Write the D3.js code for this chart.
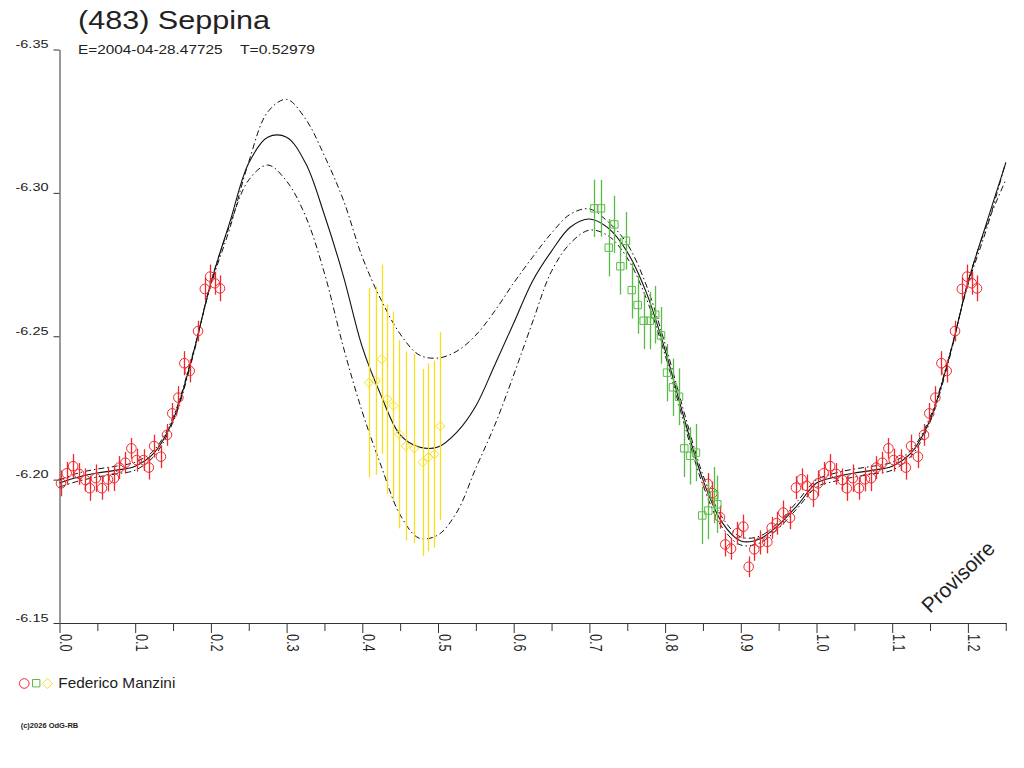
<!DOCTYPE html>
<html>
<head>
<meta charset="utf-8">
<script src="https://cdn.jsdelivr.net/npm/d3@7"></script>
<style>
body { margin: 0; background: #fff; }
text { font-family: "Liberation Sans", Arial, sans-serif; fill: #222; }
</style>
</head>
<body>
<div id="chart"></div>
<script>
// Fit curve (solid) and its two envelopes
var fitPhase = [0.000, 0.025, 0.050, 0.075, 0.100, 0.125, 0.150, 0.175, 0.200, 0.225,
    0.250, 0.275, 0.300, 0.325, 0.350, 0.375, 0.400, 0.425, 0.450, 0.475,
    0.500, 0.525, 0.550, 0.575, 0.600, 0.625, 0.650, 0.675, 0.700, 0.725,
    0.750, 0.775, 0.800, 0.825, 0.850, 0.875, 0.900, 0.925, 0.950, 0.975, 1.000];
var fitMag = [-6.1988, -6.2009, -6.2023, -6.2033, -6.2047, -6.2093, -6.2208, -6.2424, -6.2686, -6.2898,
    -6.3104, -6.3194, -6.3194, -6.3104, -6.2923, -6.2710, -6.2462, -6.2292, -6.2156, -6.2114,
    -6.2114, -6.2166, -6.2257, -6.2400, -6.2546, -6.2693, -6.2797, -6.2881, -6.2909, -6.2877,
    -6.2794, -6.2654, -6.2452, -6.2215, -6.1999, -6.1852, -6.1786, -6.1793, -6.1842, -6.1911, -6.1988];
var fitUpper = [-6.1999, -6.2023, -6.2037, -6.2047, -6.2061, -6.2103, -6.2218, -6.2428, -6.2679, -6.2877,
    -6.3108, -6.3282, -6.3326, -6.3258, -6.3129, -6.2975, -6.2776, -6.2626, -6.2508, -6.2435,
    -6.2424, -6.2448, -6.2504, -6.2588, -6.2686, -6.2776, -6.2860, -6.2926, -6.2944, -6.2898,
    -6.2822, -6.2679, -6.2473, -6.2236, -6.2016, -6.1870, -6.1800, -6.1803, -6.1852, -6.1925, -6.1999];
var fitLower = [-6.1974, -6.1995, -6.2009, -6.2020, -6.2033, -6.2082, -6.2201, -6.2417, -6.2689, -6.2888,
    -6.3045, -6.3097, -6.3041, -6.2919, -6.2720, -6.2462, -6.2236, -6.2047, -6.1877, -6.1796,
    -6.1807, -6.1887, -6.2040, -6.2190, -6.2365, -6.2550, -6.2727, -6.2825, -6.2870, -6.2850,
    -6.2773, -6.2633, -6.2435, -6.2197, -6.1981, -6.1835, -6.1772, -6.1779, -6.1831, -6.1901, -6.1974];

// Session 1 (red circles)
var redPhase = [0.002, 0.0095, 0.018, 0.026, 0.034, 0.040, 0.048, 0.056, 0.064, 0.072,
    0.079, 0.087, 0.095, 0.102, 0.111, 0.118, 0.125, 0.134, 0.142, 0.149,
    0.157, 0.165, 0.172, 0.183, 0.192, 0.199, 0.205, 0.212,
    0.8563, 0.8626, 0.8725, 0.8795, 0.8871, 0.8954, 0.9033, 0.9104, 0.9178, 0.9254,
    0.9350, 0.9408, 0.9474, 0.9561, 0.9650, 0.9729, 0.9803, 0.9870, 0.9957];
var redMag = [-6.1987, -6.2022, -6.2047, -6.2020, -6.1999, -6.1970, -6.2005, -6.1970, -6.2001, -6.2005,
    -6.2042, -6.2059, -6.2109, -6.2068, -6.2068, -6.2042, -6.2117, -6.2080, -6.2156, -6.2231,
    -6.2286, -6.2406, -6.2379, -6.2518, -6.2665, -6.2708, -6.2685, -6.2667,
    -6.1985, -6.1953, -6.1869, -6.1774, -6.1759, -6.1813, -6.1836, -6.1696, -6.1757, -6.1781,
    -6.1783, -6.1832, -6.1848, -6.1885, -6.1867, -6.1972, -6.2001, -6.1978, -6.1946];
var redErr = [0.0045, 0.0040, 0.0042, 0.0038, 0.0040, 0.0044, 0.0048, 0.0040, 0.0042, 0.0045,
    0.0040, 0.0038, 0.0036, 0.0040, 0.0038, 0.0042, 0.0040, 0.0040, 0.0038, 0.0036,
    0.0040, 0.0042, 0.0040, 0.0036, 0.0040, 0.0042, 0.0040, 0.0045,
    0.0038, 0.0040, 0.0040, 0.0042, 0.0038, 0.0040, 0.0042, 0.0036, 0.0040, 0.0042,
    0.0040, 0.0038, 0.0040, 0.0042, 0.0040, 0.0040, 0.0038, 0.0040, 0.0042];

// Session 2 (green squares)
var greenPhase = [0.7065, 0.7153, 0.7255, 0.7330, 0.7409, 0.7483, 0.7559, 0.7638, 0.7717, 0.7797,
    0.7870, 0.7946, 0.8025, 0.8104, 0.8184, 0.8254, 0.8333, 0.8408, 0.8491, 0.8571,
    0.8650, 0.8690];
var greenMag = [-6.2946, -6.2946, -6.2809, -6.2890, -6.2744, -6.2833, -6.2661, -6.2609, -6.2554, -6.2554,
    -6.2575, -6.2503, -6.2373, -6.2322, -6.2289, -6.2109, -6.2083, -6.2094, -6.1875, -6.1892,
    -6.1946, -6.1914];
var greenErr = [0.0100, 0.0099, 0.0100, 0.0100, 0.0099, 0.0100, 0.0099, 0.0100, 0.0099, 0.0100,
    0.0100, 0.0099, 0.0100, 0.0100, 0.0099, 0.0100, 0.0100, 0.0100, 0.0100, 0.0100,
    0.0098, 0.0100];

// Session 3 (yellow diamonds)
var yellowPhase = [0.4089, 0.4177, 0.4256, 0.4330, 0.4410, 0.4489, 0.4573, 0.4687, 0.4798, 0.4872,
    0.4951, 0.5030];
var yellowMag = [-6.2338, -6.2345, -6.2420, -6.2281, -6.2258, -6.2158, -6.2117, -6.2109, -6.2060, -6.2078,
    -6.2089, -6.2187];
var yellowErr = [0.0330, 0.0328, 0.0330, 0.0330, 0.0328, 0.0328, 0.0330, 0.0330, 0.0326, 0.0328,
    0.0326, 0.0328];

// Axis ticks
var xTicks = [0, 0.1, 0.2, 0.3, 0.4, 0.5, 0.6, 0.7, 0.8, 0.9, 1.0, 1.1, 1.2];
var xTickLabels = ["0.0", "0.1", "0.2", "0.3", "0.4", "0.5", "0.6", "0.7", "0.8", "0.9", "1.0", "1.1", "1.2"];
var xMinorTicks = [0.05, 0.15, 0.25, 0.35, 0.45, 0.55, 0.65, 0.75, 0.85, 0.95, 1.05, 1.15, 1.25];
var yTicks = [-6.35, -6.30, -6.25, -6.20, -6.15];
var yTickLabels = ["-6.35", "-6.30", "-6.25", "-6.20", "-6.15"];

var redColor = "#f0282d";
var greenColor = "#5bbb47";
var yellowColor = "#f8df1c";

// Append SVG element
var svg = d3.select("#chart")
    .append("svg")
    .attr("width", 1024)
    .attr("height", 768);

// Create Scales
var xScale = d3.scaleLinear()
    .domain([0, 1.25])
    .range([59.5, 1005.75]);

var yScale = d3.scaleLinear()
    .domain([-6.35, -6.15])
    .range([49.5, 623]);

// Axes
var xMinor = d3.axisBottom(xScale)
    .tickValues(xMinorTicks)
    .tickSize(8)
    .tickSizeOuter(0)
    .tickFormat("");

svg.append("g")
    .attr("transform", "translate(0,623)")
    .call(xMinor)
    .call(g => g.selectAll("path,line").attr("stroke", "#333"));

var xAxis = d3.axisBottom(xScale)
    .tickValues(xTicks)
    .tickSize(10)
    .tickSizeOuter(0)
    .tickFormat((d, i) => xTickLabels[i]);

svg.append("g")
    .attr("transform", "translate(0,623)")
    .call(xAxis)
    .call(g => g.selectAll("path,line").attr("stroke", "#333"))
    .call(g => g.selectAll("text")
        .attr("x", 0)
        .attr("y", 0)
        .attr("dy", 0)
        .attr("transform", "translate(0,11) rotate(90)")
        .attr("text-anchor", "start")
        .attr("font-family", "Liberation Sans, Arial, sans-serif")
        .attr("font-size", 17)
        .attr("textLength", 17.7)
        .attr("lengthAdjust", "spacingAndGlyphs")
        .attr("fill", "#222"));

var yAxis = d3.axisLeft(yScale)
    .tickValues(yTicks)
    .tickSize(6)
    .tickSizeOuter(0)
    .tickFormat((d, i) => yTickLabels[i]);

svg.append("g")
    .attr("transform", "translate(59.5,0)")
    .call(yAxis)
    .call(g => g.selectAll("path,line").attr("stroke", "#333"))
    .call(g => g.selectAll("text")
        .attr("x", -11)
        .attr("dy", -2)
        .attr("font-family", "Liberation Sans, Arial, sans-serif")
        .attr("font-size", 10)
        .attr("textLength", 33)
        .attr("lengthAdjust", "spacingAndGlyphs")
        .attr("fill", "#222"));

// Fit curves, the first quarter of the cycle is shown again past phase 1
function fitRows(mags) {
    var rows = fitPhase.map((p, i) => ({phase: p, mag: mags[i]}));
    fitPhase.forEach(function (p, i) {
        if (p > 0 && p <= 0.25) rows.push({phase: p + 1, mag: mags[i]});
    });
    return rows;
}

var fitLine = d3.line()
    .x(d => xScale(d.phase))
    .y(d => yScale(d.mag))
    .curve(d3.curveCatmullRom.alpha(0.5));

[fitUpper, fitLower].forEach(function (mags) {
    svg.append("path")
        .attr("d", fitLine(fitRows(mags)))
        .attr("fill", "none")
        .attr("stroke", "#111")
        .attr("stroke-width", 1)
        .attr("stroke-dasharray", "6,3,1.5,3");
});

svg.append("path")
    .attr("d", fitLine(fitRows(fitMag)))
    .attr("fill", "none")
    .attr("stroke", "#111")
    .attr("stroke-width", 1.1);

// Measurements, phases below 0.25 repeated at phase + 1
function pointRows(phase, mag, err) {
    var rows = phase.map((p, i) => ({phase: p, mag: mag[i], err: err[i]}));
    phase.forEach(function (p, i) {
        if (p < 0.25) rows.push({phase: p + 1, mag: mag[i], err: err[i]});
    });
    return rows;
}

var circlePath = "M-4.8,0a4.8,4.8 0 1,0 9.6,0a4.8,4.8 0 1,0 -9.6,0Z";
var squarePath = "M-3.7,-3.7H3.7V3.7H-3.7Z";
var diamondPath = "M0,-4.6L4.6,0L0,4.6L-4.6,0Z";

var series = [
    {rows: pointRows(redPhase, redMag, redErr), color: redColor, symbol: circlePath},
    {rows: pointRows(greenPhase, greenMag, greenErr), color: greenColor, symbol: squarePath},
    {rows: pointRows(yellowPhase, yellowMag, yellowErr), color: yellowColor, symbol: diamondPath}
];

series.forEach(function (s) {
    var g = svg.append("g");

    // Error bars
    g.selectAll("line")
        .data(s.rows)
        .enter()
        .append("line")
        .attr("x1", d => Math.round(xScale(d.phase)) + 0.5)
        .attr("x2", d => Math.round(xScale(d.phase)) + 0.5)
        .attr("y1", d => yScale(d.mag - d.err))
        .attr("y2", d => yScale(d.mag + d.err))
        .attr("stroke", s.color)
        .attr("stroke-width", 1.3);

    // Markers
    g.selectAll("path")
        .data(s.rows)
        .enter()
        .append("path")
        .attr("transform", d => `translate(${xScale(d.phase)},${yScale(d.mag)})`)
        .attr("d", s.symbol)
        .attr("fill", "none")
        .attr("stroke", s.color)
        .attr("stroke-width", 1);
});

// Titles
svg.append("text")
    .attr("x", 78)
    .attr("y", 28.5)
    .attr("font-size", 26)
    .attr("textLength", 192)
    .attr("lengthAdjust", "spacingAndGlyphs")
    .text("(483) Seppina");

svg.append("text")
    .attr("x", 78)
    .attr("y", 54)
    .attr("font-size", 12.6)
    .attr("textLength", 144.5)
    .attr("lengthAdjust", "spacingAndGlyphs")
    .text("E=2004-04-28.47725");

svg.append("text")
    .attr("x", 240)
    .attr("y", 54)
    .attr("font-size", 12.6)
    .attr("textLength", 75)
    .attr("lengthAdjust", "spacingAndGlyphs")
    .text("T=0.52979");

// Legend
var legend = svg.append("g");
legend.append("path")
    .attr("transform", "translate(24.3,683.5)")
    .attr("d", circlePath)
    .attr("fill", "none")
    .attr("stroke", redColor);
legend.append("path")
    .attr("transform", "translate(36.2,683.2)")
    .attr("d", squarePath)
    .attr("fill", "none")
    .attr("stroke", greenColor);
legend.append("path")
    .attr("transform", "translate(47.3,683.5)")
    .attr("d", "M0,-5L5,0L0,5L-5,0Z")
    .attr("fill", "none")
    .attr("stroke", yellowColor);
legend.append("text")
    .attr("x", 58.3)
    .attr("y", 688)
    .attr("font-size", 15)
    .attr("textLength", 117)
    .attr("lengthAdjust", "spacingAndGlyphs")
    .text("Federico Manzini");

// Credit and status
svg.append("text")
    .attr("x", 20.7)
    .attr("y", 728.3)
    .attr("font-size", 7)
    .attr("font-weight", "bold")
    .attr("textLength", 57.6)
    .attr("lengthAdjust", "spacingAndGlyphs")
    .text("(c)2026 OdG-RB");

svg.append("text")
    .attr("transform", "translate(930,614) rotate(-44)")
    .attr("font-size", 21)
    .attr("textLength", 92)
    .attr("lengthAdjust", "spacingAndGlyphs")
    .text("Provisoire");
</script>
</body>
</html>
